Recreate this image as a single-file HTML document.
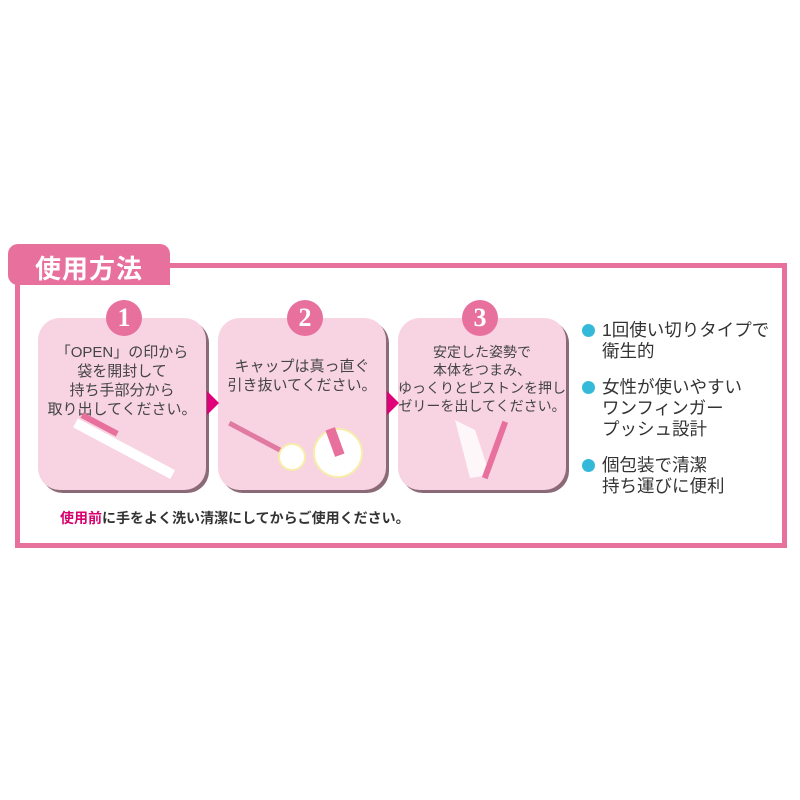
<!DOCTYPE html>
<html><head><meta charset="utf-8"><style>
body{margin:0;width:800px;height:800px;background:#fff;position:relative;font-family:"Liberation Sans","Noto Sans CJK JP",sans-serif;overflow:hidden}
.a{position:absolute}
.frame{left:15px;top:263px;width:762px;height:275px;border:5px solid #e8709d;box-sizing:content-box}
.tab{left:8px;top:244px;width:162px;height:41px;background:#e8709d;border-radius:10px 10px 0 10px}
.tab span{position:absolute;left:27px;top:5px;color:#fff;font-size:26px;font-weight:bold;letter-spacing:1px}
.box{top:318px;width:168px;height:172px;background:#f8d4e2;border-radius:22px;box-shadow:3px 3px 0 #8a6a76}
.num{width:36px;height:36px;border-radius:50%;background:#e8709d;color:#fff;font:bold 26px "Liberation Serif",serif;text-align:center;line-height:36px;top:300px}
.t{text-align:center;color:#444;font-size:15px;line-height:19px;width:168px}
.arr{width:0;height:0;border-top:12px solid transparent;border-bottom:12px solid transparent;border-left:12px solid #e0007a;top:391px}
.dot{width:13px;height:13px;border-radius:50%;background:#35b9d8;left:582px}
.b{left:602px;font-size:17.5px;line-height:21px;color:#333}
</style></head><body>
<div class="a frame"></div>
<div class="a tab"><span>使用方法</span></div>

<div class="a box" style="left:38px"></div>
<div class="a box" style="left:218px"></div>
<div class="a box" style="left:398px"></div>
<div class="a num" style="left:106px">1</div>
<div class="a num" style="left:287px">2</div>
<div class="a num" style="left:462px">3</div>
<div class="a arr" style="left:207px"></div>
<div class="a arr" style="left:387px"></div>

<div class="a t" style="left:38px;top:343px">「OPEN」の印から<br>袋を開封して<br>持ち手部分から<br>取り出してください。</div>
<div class="a t" style="left:218px;top:357px">キャップは真っ直ぐ<br>引き抜いてください。</div>
<div class="a t" style="left:398px;top:343px;font-size:14px;line-height:18px">安定した姿勢で<br>本体をつまみ、<br>ゆっくりとピストンを押し<br>ゼリーを出してください。</div>

<svg class="a" style="left:0;top:0" width="800" height="800">
<g transform="rotate(28 120 450)"><rect x="68" y="442" width="110" height="10" fill="#fff"/><rect x="70" y="434" width="40" height="6" fill="#e8709d"/></g>
<g transform="rotate(28 260 440)"><rect x="225" y="437" width="70" height="5" fill="#e07aa0"/></g>
<circle cx="292" cy="457" r="13" fill="#fff" stroke="#f6eeaa" stroke-width="2"/>
<circle cx="338" cy="453" r="24" fill="#fff" stroke="#f6eeaa" stroke-width="2"/>
<rect x="330" y="428" width="10" height="28" fill="#e8709d" transform="rotate(-20 335 442)"/>
<path d="M455 420 L475 430 L490 475 L470 478 Z" fill="#fff" opacity="0.8"/>
<rect x="492" y="420" width="6" height="60" fill="#e8709d" transform="rotate(20 495 450)"/>
</svg>

<div class="a" style="left:60px;top:508px;font-size:14px;font-weight:bold;color:#333"><span style="color:#d8006f">使用前</span>に手をよく洗い清潔にしてからご使用ください。</div>

<div class="a dot" style="top:324px"></div>
<div class="a b" style="top:320px">1回使い切りタイプで<br>衛生的</div>
<div class="a dot" style="top:381px"></div>
<div class="a b" style="top:377px">女性が使いやすい<br>ワンフィンガー<br>プッシュ設計</div>
<div class="a dot" style="top:459px"></div>
<div class="a b" style="top:455px">個包装で清潔<br>持ち運びに便利</div>
</body></html>
